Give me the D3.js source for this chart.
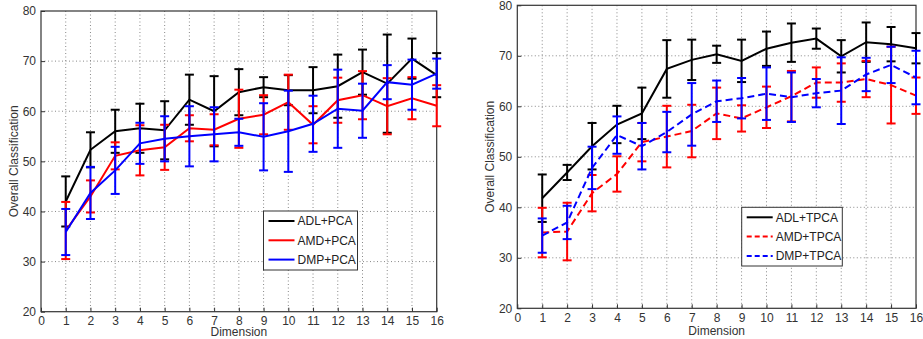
<!DOCTYPE html>
<html>
<head>
<meta charset="utf-8">
<script src="https://cdn.jsdelivr.net/npm/d3@7/dist/d3.min.js"></script>
<style>
  body { margin: 0; background: #fff; }
  svg { display: block; font-family: "Liberation Sans", Arial, sans-serif; }
</style>
</head>
<body>
<svg id="chart" width="923" height="339"></svg>
<script>
// dimensions on the x axis
const dims = d3.range(1, 17);
const xTicks = d3.range(0, 17);
const yTicks = [20, 30, 40, 50, 60, 70, 80];

// left panel: PCA
const adlPca    = [42, 52.3, 56, 56.6, 56.2, 62.3, 60, 63.8, 64.8, 64.2, 64.2, 65, 67.8, 65.5, 70.5, 67.2];
const adlPcaErr = [5, 3.5, 4.3, 4.9, 5.8, 5, 7, 4.6, 2, 3, 4.6, 6.3, 4.5, 9.8, 4, 4.4];
const amdPca    = [36.2, 43, 51.1, 52.2, 52.8, 56.6, 56.3, 58.5, 59.3, 61.8, 57.3, 62.2, 63.2, 61, 62.6, 61.1];
const amdPcaErr = [5.7, 3.2, 2.7, 5, 4.5, 2.6, 3.1, 5.8, 3.9, 5.5, 3.7, 4.5, 4.8, 5.6, 4.2, 4.1];
const dmpPca    = [35.9, 43.7, 48.2, 53.6, 54.5, 55, 55.4, 55.8, 54.9, 56, 57.5, 60.5, 60.1, 65.8, 65.3, 67.5];
const dmpPcaErr = [4.6, 5.2, 4.7, 4.1, 4.5, 6, 5.4, 2.7, 6.7, 8.1, 5.6, 7.8, 5.4, 3.4, 5, 3];

// right panel: TPCA
const adlTpca    = [41.8, 46.9, 52.1, 56.4, 58.6, 67.4, 69.2, 70.3, 69, 71.4, 72.6, 73.4, 69.9, 72.7, 72.3, 71.5];
const adlTpcaErr = [4.7, 1.5, 4.6, 3.7, 5.1, 5.7, 4, 1.7, 4.2, 3.4, 3.8, 2, 3.2, 3.9, 3.4, 3];
const amdTpca    = [35, 35.2, 42.8, 46.6, 52.9, 54, 55.1, 58.6, 57.6, 59.8, 62, 64.7, 64.7, 65.4, 64.2, 62.1];
const amdTpcaErr = [4.9, 5.7, 3.6, 3.5, 3.8, 6.1, 5.2, 5.1, 2.6, 4.1, 5, 3, 3.8, 3.6, 7.6, 3.6];
const dmpTpca    = [34.4, 37, 47.8, 54.3, 52.1, 54.9, 58.4, 61, 61.6, 62.5, 61.8, 62.6, 63.1, 66.3, 68.2, 65.7];
const dmpTpcaErr = [3.4, 3.3, 4.2, 3.7, 4.6, 4, 6.2, 4.1, 4, 5.2, 4.9, 2.8, 6.6, 3.3, 3.6, 5.3];

const svg = d3.select("#chart");

const panels = [
  {
    left: 41, right: 436.7, top: 11, bottom: 311.7, ylabX: 14, xlabY: 336,
    legend: {x: 263.5, y: 211, w: 94, h: 59},
    series: [
      {name: "ADL+PCA", color: "#000", dash: null, v: adlPca, e: adlPcaErr},
      {name: "AMD+PCA", color: "#f00", dash: null, v: amdPca, e: amdPcaErr},
      {name: "DMP+PCA", color: "#00f", dash: null, v: dmpPca, e: dmpPcaErr}
    ]
  },
  {
    left: 517.3, right: 916, top: 5.3, bottom: 308.3, ylabX: 490, xlabY: 334.5,
    legend: {x: 741.7, y: 207.3, w: 100.6, h: 58.7},
    series: [
      {name: "ADL+TPCA", color: "#000", dash: null, v: adlTpca, e: adlTpcaErr},
      {name: "AMD+TPCA", color: "#f00", dash: "7,4", v: amdTpca, e: amdTpcaErr},
      {name: "DMP+TPCA", color: "#00f", dash: "7,4", v: dmpTpca, e: dmpTpcaErr}
    ]
  }
];

panels.forEach(p => {
  const x = d3.scaleLinear().domain([0, 16]).range([p.left, p.right]);
  const y = d3.scaleLinear().domain([20, 80]).range([p.bottom, p.top]);
  const g = svg.append("g");

  // dotted grid
  g.append("g").selectAll("line").data(xTicks.slice(1, -1)).join("line")
    .attr("x1", d => x(d)).attr("x2", d => x(d))
    .attr("y1", p.top).attr("y2", p.bottom)
    .attr("stroke", "#888").attr("stroke-width", 1).attr("stroke-dasharray", "1,2.5");
  g.append("g").selectAll("line").data(yTicks.slice(1, -1)).join("line")
    .attr("x1", p.left).attr("x2", p.right)
    .attr("y1", d => y(d)).attr("y2", d => y(d))
    .attr("stroke", "#888").attr("stroke-width", 1).attr("stroke-dasharray", "1,2.5");

  // axes
  const xAxis = g.append("g").attr("transform", `translate(0,${p.bottom})`)
    .call(d3.axisBottom(x).tickValues(xTicks).tickSize(-4).tickPadding(5).tickFormat(d3.format("d")));
  const yAxis = g.append("g").attr("transform", `translate(${p.left},0)`)
    .call(d3.axisLeft(y).tickValues(yTicks).tickSize(-4).tickPadding(5));
  [xAxis, yAxis].forEach(a => {
    a.select(".domain").remove();
    a.selectAll("line").attr("stroke", "#333");
    a.selectAll("text").attr("fill", "#333").style("font-size", "12px")
      .style("font-family", "'Liberation Sans', Arial, sans-serif");
  });

  // frame box
  g.append("rect")
    .attr("x", p.left).attr("y", p.top)
    .attr("width", p.right - p.left).attr("height", p.bottom - p.top)
    .attr("fill", "none").attr("stroke", "#333").attr("stroke-width", 1.2);

  // series: error bars then mean line
  const line = d3.line().x((d, i) => x(dims[i])).y(d => y(d));
  p.series.forEach(s => {
    const eb = g.append("g").attr("stroke", s.color).attr("stroke-width", 2);
    s.v.forEach((v, i) => {
      const cx = x(dims[i]);
      const t = y(v + s.e[i]), b = y(v - s.e[i]);
      eb.append("line").attr("x1", cx).attr("x2", cx).attr("y1", t).attr("y2", b);
      eb.append("line").attr("x1", cx - 4.5).attr("x2", cx + 4.5).attr("y1", t).attr("y2", t);
      eb.append("line").attr("x1", cx - 4.5).attr("x2", cx + 4.5).attr("y1", b).attr("y2", b);
    });
    g.append("path").datum(s.v)
      .attr("d", line)
      .attr("fill", "none")
      .attr("stroke", s.color)
      .attr("stroke-width", 2)
      .attr("stroke-dasharray", s.dash);
  });

  // axis labels
  g.append("text")
    .attr("x", (p.left + p.right) / 2).attr("y", p.xlabY)
    .attr("text-anchor", "middle").attr("fill", "#333").style("font-size", "12px")
    .text("Dimension");
  g.append("text")
    .attr("transform", `translate(${p.ylabX},${(p.top + p.bottom) / 2}) rotate(-90)`)
    .attr("text-anchor", "middle").attr("dy", "0.35em").attr("fill", "#333").style("font-size", "12px")
    .text("Overall Classification");

  // legend
  const L = p.legend;
  const lg = g.append("g");
  lg.append("rect").attr("x", L.x).attr("y", L.y).attr("width", L.w).attr("height", L.h)
    .attr("fill", "#fff").attr("stroke", "#333").attr("stroke-width", 1);
  p.series.forEach((s, i) => {
    const ly = L.y + 10 + i * 19.3;
    lg.append("line").attr("x1", L.x + 5).attr("x2", L.x + 31).attr("y1", ly).attr("y2", ly)
      .attr("stroke", s.color).attr("stroke-width", 2).attr("stroke-dasharray", s.dash ? "5,3" : null);
    lg.append("text").attr("x", L.x + 34).attr("y", ly).attr("dy", "0.35em")
      .attr("fill", "#222").style("font-size", "12px").text(s.name);
  });
});
</script>
</body>
</html>
